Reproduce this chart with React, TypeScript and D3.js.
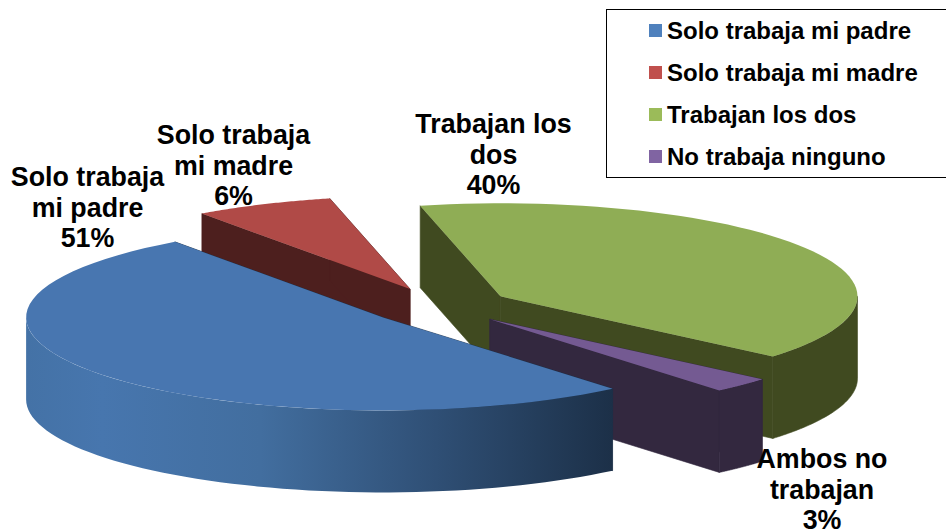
import React from "react";
import * as d3 from "d3";

const categories = ["Solo trabaja mi padre", "Solo trabaja mi madre", "Trabajan los dos", "No trabaja ninguno"];
// unrounded shares, the labels show them rounded
const values = [51.2, 6.3, 39.8, 2.7];
const dataLabels = [
  ["Solo trabaja", "mi padre", "51%"],
  ["Solo trabaja", "mi madre", "6%"],
  ["Trabajan los", "dos", "40%"],
  ["Ambos no", "trabajan", "3%"],
];
const legendColors = ["#4f81bd", "#c0504d", "#9bbb59", "#8064a2"];
const topColors = ["#4876b0", "#b04a47", "#8fad55", "#745a92"];
const sideColors = ["#1c3048", "#4d1f1e", "#404a20", "#33283f"];

const width = 946;
const height = 531;
const cx = 439.5;
const cy = 306;
const rx = 357;
const ry = 93;
const depth = 82;
const explode = 0.2;
const startDeg = 140;
const font = "'Liberation Sans', Arial, sans-serif";

// label anchor per slice (centre x, first baseline)
const labelX = [87.5, 233.5, 493.5, 822];
const labelY = [186, 144, 133, 468];
const lineGap = 30.5;

const pie = d3
  .pie<number>()
  .sort(null)
  .startAngle((startDeg * Math.PI) / 180)
  .endAngle((startDeg * Math.PI) / 180 + 2 * Math.PI);

const project = (a: number, ox: number, oy: number): [number, number] => [
  ox + rx * Math.sin(a),
  oy - ry * Math.cos(a),
];

const line = d3.line();

const App = () => {
  const slices = pie(values).map((d, i) => {
    const mid = (d.startAngle + d.endAngle) / 2;
    const ox = cx + explode * rx * Math.sin(mid);
    const oy = cy - explode * ry * Math.cos(mid);
    const a0 = d.startAngle;
    const a1 = d.endAngle;
    const rim = d3.range(0, 61).map((k) => project(a0 + ((a1 - a0) * k) / 60, ox, oy));
    const top = line([[ox, oy], ...rim])! + "Z";

    // outer wall: only the part of the rim on the near half
    const near: [number, number][] = [];
    const turn = 2 * Math.PI;
    for (const shift of [0, turn]) {
      const from = Math.max(a0, Math.PI / 2 + shift);
      const to = Math.min(a1, (3 * Math.PI) / 2 + shift);
      if (to > from) {
        d3.range(0, 61).forEach((k) => near.push(project(from + ((to - from) * k) / 60, ox, oy)));
      }
    }
    const wall = near.length
      ? line([...near, ...near.slice().reverse().map(([x, y]) => [x, y + depth] as [number, number])])! + "Z"
      : null;

    const face = (a: number) => {
      const [x, y] = project(a, ox, oy);
      return line([[ox, oy], [x, y], [x, y + depth], [ox, oy + depth]])! + "Z";
    };
    return { i, top, wall, faces: [face(a0), face(a1)] };
  });

  const drawOrder = [1, 2, 3, 0];

  return (
    <svg
      width={width}
      height={height}
      style={{ position: "absolute", left: 0, top: 0, background: "#fff" }}
      fontFamily={font}
      fontWeight="bold"
    >
      <defs>
        <linearGradient id="blueWall" gradientUnits="userSpaceOnUse" x1={26} x2={612} y1={0} y2={0}>
          <stop offset="0" stopColor="#4472a6" />
          <stop offset="0.13" stopColor="#4776ae" />
          <stop offset="0.4" stopColor="#426e9f" />
          <stop offset="0.7" stopColor="#2f4f75" />
          <stop offset="1" stopColor="#1c3048" />
        </linearGradient>
      </defs>

      {drawOrder.map((idx) => {
        const s = slices[idx];
        const side = sideColors[idx];
        return (
          <g key={categories[idx]}>
            {s.faces.map((f, k) => (
              <path key={k} d={f} fill={side} stroke={side} strokeWidth={0.6} />
            ))}
            {s.wall && (
              <path
                d={s.wall}
                fill={idx === 0 ? "url(#blueWall)" : side}
                stroke={idx === 0 ? "none" : side}
                strokeWidth={0.6}
              />
            )}
            <path d={s.top} fill={topColors[idx]} />
          </g>
        );
      })}

      {dataLabels.map((lines, i) => (
        <text key={i} textAnchor="middle" fontSize={26.8} fill="#000">
          {lines.map((t, k) => (
            <tspan key={k} x={labelX[i]} y={labelY[i] + k * lineGap}>
              {t}
            </tspan>
          ))}
        </text>
      ))}

      <rect x={606.5} y={9.5} width={345} height={168} fill="#fff" stroke="#000" strokeWidth={1} />
      {categories.map((c, i) => (
        <g key={c}>
          <rect x={649} y={24 + i * 42} width={13} height={13} fill={legendColors[i]} />
          <text x={667} y={38.5 + i * 42.3} fontSize={24} fill="#000">
            {c}
          </text>
        </g>
      ))}
    </svg>
  );
};

export default App;
